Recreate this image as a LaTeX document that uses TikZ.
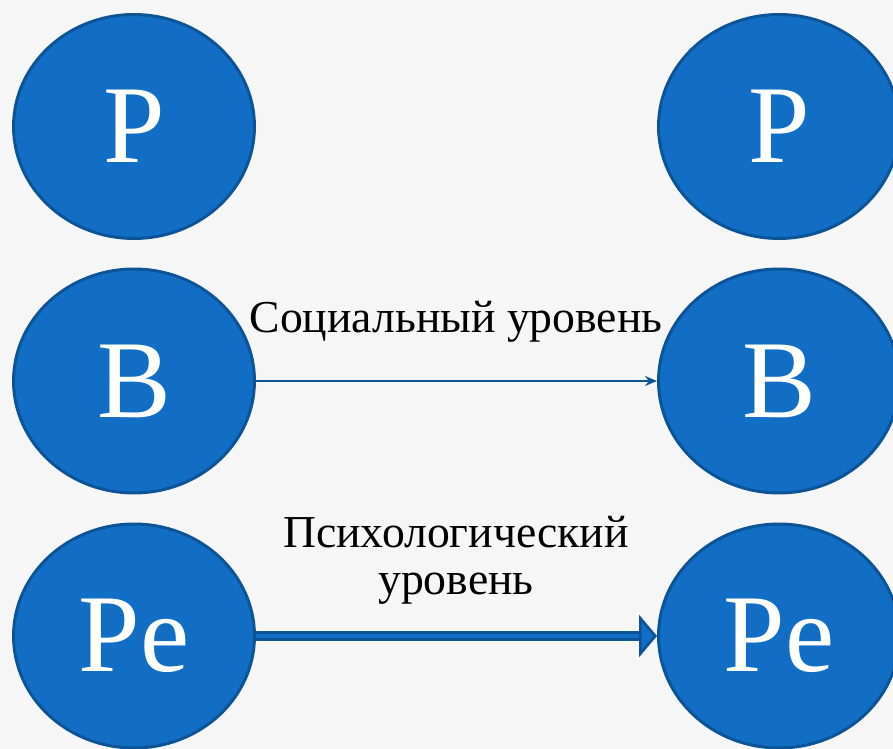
\documentclass[tikz,border=0pt]{standalone}
\usepackage{fontspec}
\setmainfont{Liberation Serif}
\usetikzlibrary{shapes.geometric,arrows.meta}
\definecolor{circfill}{RGB}{17,110,196}
\definecolor{circedge}{RGB}{12,84,150}
\definecolor{bgcol}{RGB}{246,246,246}
\tikzset{
  lvl/.style={ellipse, draw=circedge, line width=1.7pt, fill=circfill, text=white,
    minimum width=4.82cm, minimum height=4.48cm, inner sep=0pt,
    font=\fontsize{63}{63}\selectfont},
  lbl/.style={align=center, font=\fontsize{26}{27}\selectfont}
}
\begin{document}
\begin{tikzpicture}[x=0.02cm,y=-0.02cm]
\fill[bgcol] (0,0) rectangle (893,749);
\useasboundingbox (0,0) rectangle (893,749);
% left column
\node[lvl] (p1) at (134,126.5){P};
\node[lvl] (b1) at (134,381){B};
\node[lvl] (pe1) at (134,636){Pe};
% right column
\node[lvl] (p2) at (779,126.5){P};
\node[lvl] (b2) at (779,381){B};
\node[lvl] (pe2) at (779,636){Pe};
% levels
\node[lbl, anchor=base] (soc) at (456,333){Социальный уровень};
\node[lbl, anchor=base] (psy) at (456,595){Психологический\\уровень};
\draw[circedge, line width=1.1pt, -{Stealth[length=0.24cm, width=0.2cm]}](b1) -- (b2);
\draw[circedge, line width=6.2pt, -{Triangle[length=0.36cm, width=0.84cm, fill=circfill, line width=1.5pt]}](pe1) -- (pe2);
\draw[circfill, line width=2.3pt, shorten >=0.36cm](pe1) -- (pe2);
\end{tikzpicture}
\end{document}
